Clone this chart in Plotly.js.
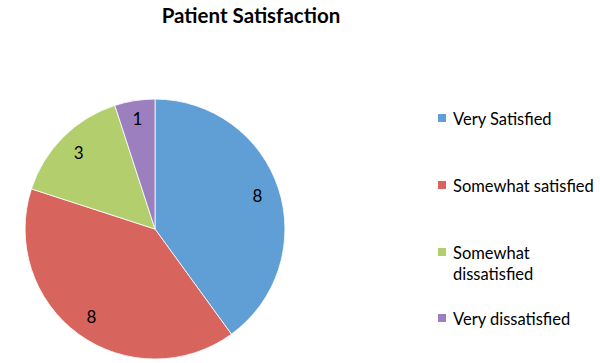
<!DOCTYPE html>
<html>
<head>
<meta charset="utf-8">
<script src="https://cdn.plot.ly/plotly-3.0.1.min.js"></script>
<style>html,body{margin:0;padding:0;background:#fff;}#chart{width:600px;height:363px;}</style>
</head>
<body>
<div id="chart"></div>
<script>
var categories = ["Very Satisfied", "Somewhat satisfied", "Somewhat dissatisfied", "Very dissatisfied"];
var values = [8, 8, 3, 1];
var legendLabels = ["Very Satisfied", "Somewhat satisfied", "Somewhat<br>dissatisfied", "Very dissatisfied"];
var colors = ["#5f9fd6", "#d8645e", "#b3cf6d", "#9c7fbe"];

var FONT = "Lato, 'Open Sans', sans-serif";
var dom = {x: [0.0417, 0.475], y: [0.011, 0.727]};

var pieBase = {
  type: "pie",
  labels: categories,
  values: values,
  sort: false,
  direction: "clockwise",
  rotation: 0,
  domain: dom,
  marker: {colors: colors, line: {color: "rgba(255,255,255,0.8)", width: 1}},
  textinfo: "none",
  showlegend: false,
  hoverinfo: "label+value"
};

var pieText = {
  type: "pie",
  labels: categories,
  values: values,
  sort: false,
  direction: "clockwise",
  rotation: 0,
  domain: dom,
  hole: 0.66,
  marker: {colors: ["rgba(0,0,0,0)","rgba(0,0,0,0)","rgba(0,0,0,0)","rgba(0,0,0,0)"], line: {width: 0}},
  textinfo: "value",
  textposition: "inside",
  insidetextorientation: "horizontal",
  textfont: {family: FONT, size: 17, color: "#000"},
  showlegend: false,
  hoverinfo: "skip"
};

// manual legend built from categories and colors
var legendY = [118, 185, 252, 318];
var shapes = [];
var annotations = [];
for (var i = 0; i < categories.length; i++) {
  var yc = 363 - legendY[i];
  shapes.push({
    type: "rect", xref: "paper", yref: "paper",
    x0: 438 / 600, x1: 446 / 600,
    y0: (yc - 4) / 363, y1: (yc + 4) / 363,
    fillcolor: colors[i], line: {width: 0}
  });
  annotations.push({
    xref: "paper", yref: "paper",
    x: 451 / 600, y: (yc + 11) / 363,
    xanchor: "left", yanchor: "top", align: "left",
    text: legendLabels[i], showarrow: false,
    font: {family: FONT, size: 16.5, color: "#000"}
  });
}

var layout = {
  width: 600, height: 363,
  margin: {l: 0, r: 0, t: 0, b: 0},
  paper_bgcolor: "#fff",
  title: {text: "<b>Patient Satisfaction</b>", x: 251 / 600, xanchor: "center", y: 1 - 16 / 363, yanchor: "middle",
          font: {family: FONT, size: 20.5, color: "#000"}},
  shapes: shapes,
  annotations: annotations,
  showlegend: false
};

Plotly.newPlot("chart", [pieBase, pieText], layout, {displayModeBar: false, staticPlot: true});
</script>
</body>
</html>
